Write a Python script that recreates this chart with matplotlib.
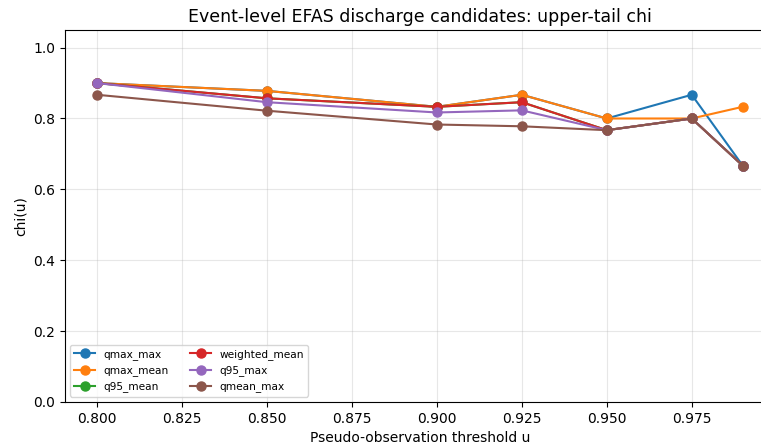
import matplotlib
matplotlib.use("Agg")
import matplotlib.pyplot as plt

# upper-tail chi per threshold for each discharge candidate
thresholds = [0.80, 0.85, 0.90, 0.925, 0.95, 0.975, 0.99]
qmax_max = [0.900, 0.878, 0.833, 0.867, 0.800, 0.867, 0.667]
qmax_mean = [0.900, 0.878, 0.833, 0.867, 0.800, 0.800, 0.833]
q95_mean = [0.900, 0.857, 0.833, 0.846, 0.767, 0.800, 0.667]
weighted_mean = [0.900, 0.857, 0.833, 0.846, 0.767, 0.800, 0.667]
q95_max = [0.900, 0.846, 0.817, 0.823, 0.767, 0.800, 0.667]
qmean_max = [0.867, 0.822, 0.783, 0.778, 0.767, 0.800, 0.667]

series = {
    "qmax_max": qmax_max,
    "qmax_mean": qmax_mean,
    "q95_mean": q95_mean,
    "weighted_mean": weighted_mean,
    "q95_max": q95_max,
    "qmean_max": qmean_max,
}

fig, ax = plt.subplots(figsize=(7.61, 4.47), dpi=100)
for name, vals in series.items():
    ax.plot(thresholds, vals, marker="o", markersize=6.5, label=name)

ax.set_ylim(0, 1.05)
ax.set_xlabel("Pseudo-observation threshold u")
ax.set_ylabel("chi(u)")
ax.set_title("Event-level EFAS discharge candidates: upper-tail chi", fontsize=12.5)
ax.grid(True, alpha=0.3)
ax.legend(ncol=2, fontsize=7.6, loc="lower left")
# the plot runs off the right edge of the saved image
fig.subplots_adjust(left=0.085, right=1.0184, top=0.933, bottom=0.101)
fig.savefig("out.png")
